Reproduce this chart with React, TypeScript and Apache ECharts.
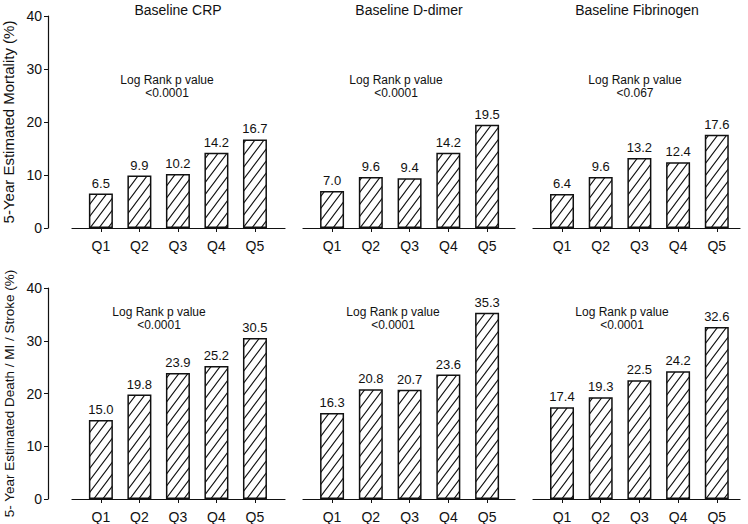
import React, { useEffect, useRef } from "react";
import * as echarts from "echarts";

const categories = ["Q1", "Q2", "Q3", "Q4", "Q5"];
const panelTitles = ["Baseline CRP", "Baseline D-dimer", "Baseline Fibrinogen"];
const rowAxisNames = ["5-Year Estimated Mortality (%)", "5- Year Estimated Death / MI / Stroke (%)"];

const mortalityCRP = [6.5, 9.9, 10.2, 14.2, 16.7];
const mortalityDdimer = [7.0, 9.6, 9.4, 14.2, 19.5];
const mortalityFibrinogen = [6.4, 9.6, 13.2, 12.4, 17.6];
const compositeCRP = [15.0, 19.8, 23.9, 25.2, 30.5];
const compositeDdimer = [16.3, 20.8, 20.7, 23.6, 35.3];
const compositeFibrinogen = [17.4, 19.3, 22.5, 24.2, 32.6];

const pValuesTop = ["<0.0001", "<0.0001", "<0.067"];
const pValuesBottom = ["<0.0001", "<0.0001", "<0.0001"];

const yTicks = { min: 0, max: 40, interval: 10 };

const FONT = "Liberation Sans, Arial, Helvetica, sans-serif";

function makeHatch(): HTMLCanvasElement {
  const w = 9;
  const h = 12;
  const c = document.createElement("canvas");
  c.width = w;
  c.height = h;
  const ctx = c.getContext("2d")!;
  ctx.fillStyle = "#ffffff";
  ctx.fillRect(0, 0, w, h);
  ctx.strokeStyle = "#111111";
  ctx.lineWidth = 1.1;
  ctx.beginPath();
  ctx.moveTo(-w, 2 * h);
  ctx.lineTo(2 * w, -h);
  ctx.moveTo(-2 * w, 2 * h);
  ctx.lineTo(w, -h);
  ctx.moveTo(0, 2 * h);
  ctx.lineTo(3 * w, -h);
  ctx.stroke();
  return c;
}

export default function App() {
  const ref = useRef<HTMLDivElement>(null);

  useEffect(() => {
    document.body.style.margin = "0";
    const chart = echarts.init(ref.current!, null, { renderer: "svg" });
    const hatch = makeHatch();

    const cols = [
      { left: 72, width: 213, max: 4.78 },
      { left: 303, width: 212, max: 4.72 },
      { left: 533, width: 207, max: 4.6 },
    ];
    const rows = [
      { top: 16, height: 212, nameSize: 15 },
      { top: 288, height: 211, nameSize: 13.5 },
    ];
    const data = [
      [mortalityCRP, mortalityDdimer, mortalityFibrinogen],
      [compositeCRP, compositeDdimer, compositeFibrinogen],
    ];

    const grid: any[] = [];
    const xAxis: any[] = [];
    const yAxis: any[] = [];
    const series: any[] = [];
    let idx = 0;
    rows.forEach((r, ri) => {
      cols.forEach((c, ci) => {
        grid.push({
          left: c.left,
          width: c.width,
          top: r.top,
          height: r.height,
          containLabel: false,
          outerBoundsMode: "none",
        });
        xAxis.push({
          type: "value",
          gridIndex: idx,
          min: -0.75,
          max: c.max,
          splitLine: { show: false },
          axisLine: { show: true, onZero: false, lineStyle: { color: "#111", width: 1.2 } },
          axisTick: { show: true, customValues: [0, 1, 2, 3, 4], length: 4, lineStyle: { color: "#111" } },
          axisLabel: {
            customValues: [0, 1, 2, 3, 4],
            formatter: (v: number) => categories[Math.round(v)] ?? "",
            color: "#111",
            fontSize: 14,
            fontFamily: FONT,
            margin: 11,
          },
        });
        yAxis.push({
          type: "value",
          gridIndex: idx,
          min: yTicks.min,
          max: yTicks.max,
          interval: yTicks.interval,
          show: ci === 0,
          offset: 24,
          splitLine: { show: false },
          axisLine: { show: true, onZero: false, lineStyle: { color: "#111", width: 1.2 } },
          axisTick: { show: true, length: 4, lineStyle: { color: "#111" } },
          axisLabel: { color: "#111", fontSize: 14, fontFamily: FONT, margin: 6 },
          name: ci === 0 ? rowAxisNames[ri] : "",
          nameLocation: "middle",
          nameGap: 32,
          nameTextStyle: { color: "#111", fontSize: r.nameSize, fontFamily: FONT },
        });
        series.push({
          type: "bar",
          xAxisIndex: idx,
          yAxisIndex: idx,
          barWidth: 24,
          data: data[ri][ci].map((v, i) => [i, v]),
          itemStyle: {
            color: { image: hatch, repeat: "repeat" },
            borderColor: "#111",
            borderWidth: 1.5,
          },
          label: {
            show: true,
            position: "top",
            distance: 4,
            color: "#111",
            fontSize: 13,
            fontFamily: FONT,
            formatter: (p: any) => Number(p.value[1]).toFixed(1),
          },
        });
        idx++;
      });
    });

    const titleX = [178, 409, 637];
    const logTop = [
      { x: 167, y: 80 },
      { x: 396, y: 80 },
      { x: 635, y: 80 },
    ];
    const logBottom = [
      { x: 159, y: 312 },
      { x: 393, y: 312 },
      { x: 622, y: 312 },
    ];
    const textStyle = (text: string, size: number) => ({
      text,
      fill: "#111",
      font: `${size}px ${FONT}`,
      align: "center",
      verticalAlign: "middle",
    });
    const graphic: any[] = [];
    panelTitles.forEach((t, i) => {
      graphic.push({ type: "text", x: titleX[i], y: 10, style: textStyle(t, 14) });
    });
    logTop.forEach((p, i) => {
      graphic.push({ type: "text", x: p.x, y: p.y, style: textStyle("Log Rank p value", 12) });
      graphic.push({ type: "text", x: p.x, y: p.y + 13, style: textStyle(pValuesTop[i], 12) });
    });
    logBottom.forEach((p, i) => {
      graphic.push({ type: "text", x: p.x, y: p.y, style: textStyle("Log Rank p value", 12) });
      graphic.push({ type: "text", x: p.x, y: p.y + 13, style: textStyle(pValuesBottom[i], 12) });
    });

    chart.setOption({
      animation: false,
      backgroundColor: "#ffffff",
      grid,
      xAxis,
      yAxis,
      series,
      graphic,
    });
    return () => chart.dispose();
  }, []);

  return <div ref={ref} style={{ width: 748, height: 524 }} />;
}
